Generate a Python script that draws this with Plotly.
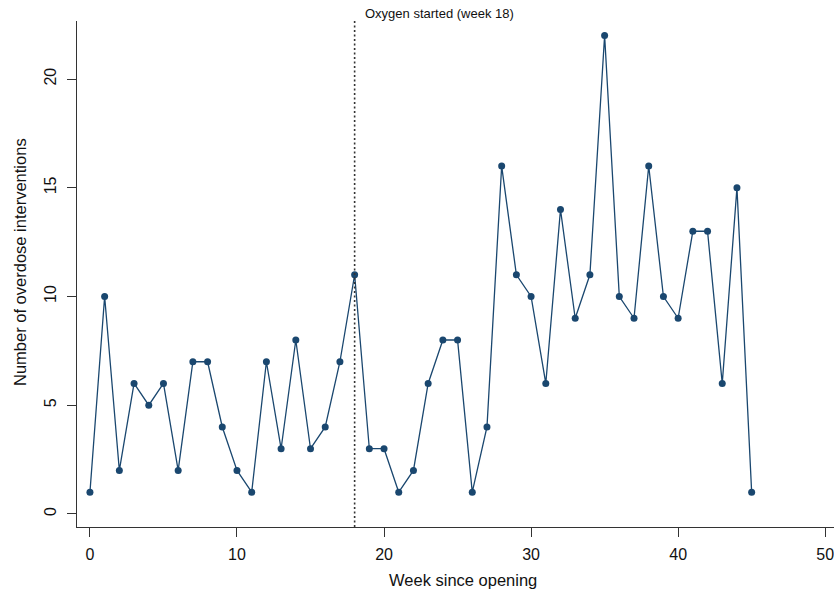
import plotly.graph_objects as go

weeks = list(range(46))
interventions = [1, 10, 2, 6, 5, 6, 2, 7, 7, 4, 2, 1, 7, 3, 8, 3, 4, 7, 11, 3,
                 3, 1, 2, 6, 8, 8, 1, 4, 16, 11, 10, 6, 14, 9, 11, 22, 10, 9, 16, 10,
                 9, 13, 13, 6, 15, 1]
oxygen_week = 18
x_ticks = [0, 10, 20, 30, 40, 50]
y_ticks = [0, 5, 10, 15, 20]

navy = "#1a476f"
axis_col = "#333333"
font = "Liberation Sans, Arial, sans-serif"

W, H = 834, 594
L, R, T, B = 77, 834, 21, 527  # plot area in pixels

fig = go.Figure()
fig.add_trace(go.Scatter(
    x=weeks, y=interventions, mode="lines+markers",
    line=dict(color=navy, width=1.3),
    marker=dict(color=navy, size=7),
    showlegend=False,
))

fig.add_shape(type="line", x0=oxygen_week, x1=oxygen_week, y0=0, y1=1,
              xref="x", yref="paper", line=dict(color=axis_col, width=1.6, dash="2px,2.5px"))
fig.add_annotation(x=oxygen_week, y=1, xref="x", yref="paper", yanchor="bottom",
                   xanchor="left", xshift=8, yshift=-2, showarrow=False,
                   text="Oxygen started (week 18)", font=dict(size=13, color="#111111", family=font))

fig.add_annotation(x=(463 - L) / (R - L), y=-(580 - B) / (B - T), xref="paper", yref="paper",
                   showarrow=False, xanchor="center", yanchor="middle",
                   text="Week since opening", font=dict(size=16.5, color="#111111", family=font))
fig.add_annotation(x=-(L - 20) / (R - L), y=(B - 262) / (B - T), xref="paper", yref="paper",
                   showarrow=False, textangle=-90, xanchor="center", yanchor="middle",
                   text="Number of overdose interventions", font=dict(size=16.5, color="#111111", family=font))

fig.update_layout(
    width=W, height=H,
    margin=dict(l=L, r=W - R, t=T, b=H - B, autoexpand=False),
    paper_bgcolor="white", plot_bgcolor="white",
    font=dict(family=font, color="#111111"),
    xaxis=dict(range=[-0.88, 50.6], tickvals=x_ticks, showgrid=False, zeroline=False,
               showline=True, linecolor=axis_col, linewidth=1.3, automargin=False,
               ticks="outside", ticklen=9, tickcolor=axis_col, tickwidth=1.3,
               ticklabelstandoff=4, ticklabeloverflow="allow", tickfont=dict(size=16)),
    yaxis=dict(range=[-0.6, 22.67], tickvals=y_ticks, showgrid=False, zeroline=False,
               showline=True, linecolor=axis_col, linewidth=1.3, automargin=False,
               ticks="outside", ticklen=9, tickcolor=axis_col, tickwidth=1.3,
               ticklabelstandoff=4, ticklabeloverflow="allow", tickangle=-90, tickfont=dict(size=16)),
)

fig.write_html("out.html", config={"displayModeBar": False},
               post_script="document.body.style.margin='0';")
